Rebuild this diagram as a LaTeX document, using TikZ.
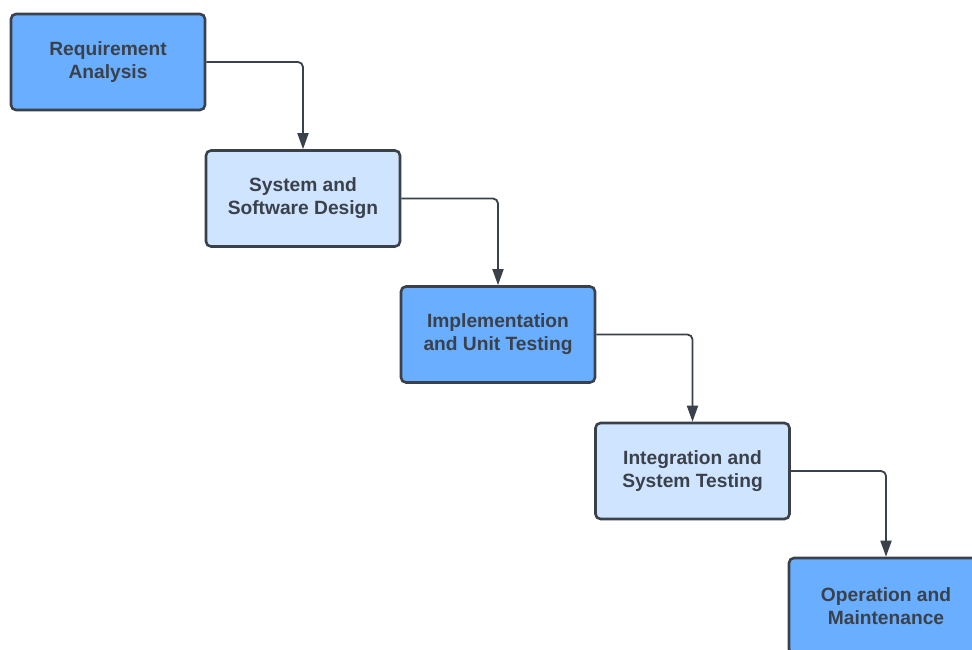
\documentclass[tikz,border=0pt]{standalone}
\usepackage{fontspec}
\setmainfont{Liberation Sans}
\usetikzlibrary{arrows.meta}
\definecolor{dkblue}{HTML}{6AAEFF}
\definecolor{ltblue}{HTML}{CFE4FF}
\definecolor{ink}{HTML}{3A414A}
\begin{document}
\begin{tikzpicture}[x=1pt,y=-1pt,
  phase/.style={draw=ink,line width=2.6pt,rounded corners=5pt,minimum width=194pt,minimum height=96pt,
    align=center,text=ink,font=\fontsize{19.2}{23}\selectfont\bfseries,inner sep=0pt},
  dark/.style={phase,fill=dkblue},
  light/.style={phase,fill=ltblue},
  flow/.style={draw=ink,line width=1.8pt,rounded corners=5pt,-{Triangle[length=16pt,width=11pt]}}]
\useasboundingbox (0,0) rectangle (972,650);
\node[dark]  (a) at (108,62)    {Requirement\\Analysis};
\node[light] (b) at (303,198.5) {System and\\Software Design};
\node[dark]  (c) at (498,334.5) {Implementation\\and Unit Testing};
\node[light] (d) at (692.5,471) {Integration and\\System Testing};
\node[dark]  (e) at (886,606)   {Operation and\\Maintenance};
\draw[flow] (a.east) -| (b.north);
\draw[flow] (b.east) -| (c.north);
\draw[flow] (c.east) -| (d.north);
\draw[flow] (d.east) -| (e.north);
\end{tikzpicture}
\end{document}
